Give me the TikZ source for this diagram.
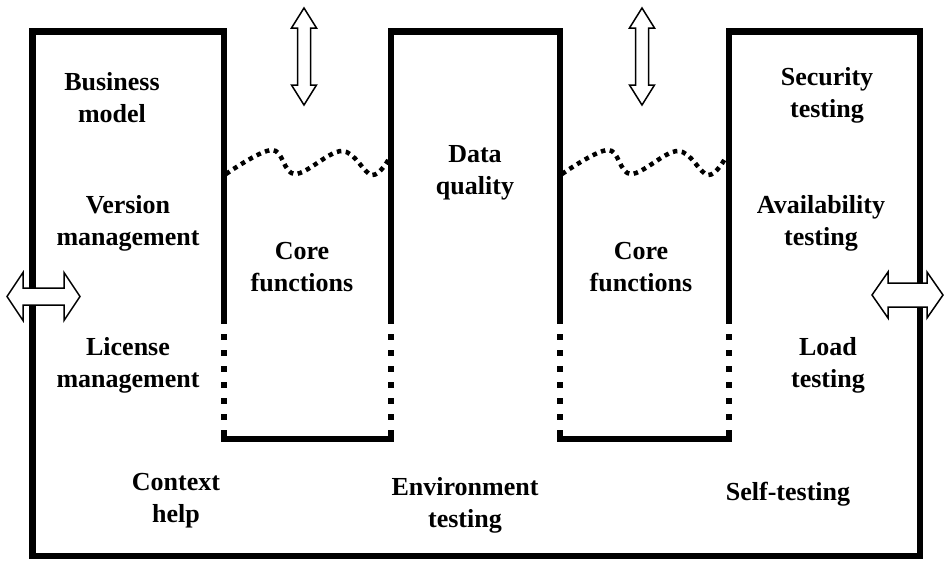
\documentclass[tikz,border=0pt]{standalone}
\usepackage{fontspec}
\setmainfont{Liberation Serif}
\begin{document}
\begin{tikzpicture}[x=1pt,y=-1pt]
\tikzset{
  wall/.style={line width=6.5pt, line join=miter},
  gap/.style={line width=6.5pt, dash pattern=on 6pt off 10pt},
  seam/.style={line width=4.5pt, dash pattern=on 4.5pt off 4.5pt},
  flow/.style={draw=black, fill=white, line width=1.5pt, line join=miter},
  label/.style={font=\bfseries\fontsize{26}{32}\selectfont, align=center,
                anchor=north, inner sep=0pt},
}
\useasboundingbox (0,0) rectangle (945,560);

% outer outline with the three raised blocks
\draw[wall] (729,318) -- (729,31.5) -- (920,31.5) -- (920,556) -- (32.5,556)
  -- (32.5,31.5) -- (224,31.5) -- (224,318);
\draw[wall] (391,318) -- (391,31.5) -- (560,31.5) -- (560,318);

% dotted lower walls of the two core wells
\foreach \x in {224,391,560,729}
  \draw[gap] (\x,318) -- (\x,436);

% bottoms of the two core wells
\draw[wall] (224,436) -- (224,439) -- (391,439) -- (391,436);
\draw[wall] (560,436) -- (560,439) -- (729,439) -- (729,436);

% wavy dotted surfaces of the core wells
\draw[seam] plot[smooth, tension=0.6] coordinates
  {(226,174) (272,150) (295,174) (342,151) (372,175) (390,157)};
\draw[seam] plot[smooth, tension=0.6] coordinates
  {(562,174) (608,150) (631,174) (678,151) (708,175) (726,157)};

% vertical double arrows above the wells
\foreach \c in {304,642}
  \draw[flow] (\c,8) -- (\c+12.5,28) -- (\c+6.5,28) -- (\c+6.5,85)
    -- (\c+12.5,85) -- (\c,105) -- (\c-12.5,85) -- (\c-6.5,85)
    -- (\c-6.5,28) -- (\c-12.5,28) -- cycle;

% horizontal double arrows on the side walls
\draw[flow] (7,296.5) -- (23,272.5) -- (23,288) -- (64,288) -- (64,272.5)
  -- (80,296.5) -- (64,320.5) -- (64,305) -- (23,305) -- (23,320.5) -- cycle;
\draw[flow] (872,295) -- (888,272) -- (888,283) -- (927,283) -- (927,272)
  -- (943,295) -- (927,318) -- (927,307) -- (888,307) -- (888,318) -- cycle;

% labels
\node[label] (bm)  at (112,72)  {Business\\model};
\node[label] (vm)  at (128,195) {Version\\management};
\node[label] (lm)  at (128,337) {License\\management};
\node[label] (ch)  at (176,473) {Context\\help};
\node[label] (cf1) at (302,242) {Core\\functions};
\node[label] (dq)  at (475,145) {Data\\quality};
\node[label] (et)  at (465,477) {Environment\\testing};
\node[label] (cf2) at (641,242) {Core\\functions};
\node[label] (st)  at (827,67)  {Security\\testing};
\node[label] (at)  at (821,195) {Availability\\testing};
\node[label] (lt)  at (828,337) {Load\\testing};
\node[label] (sf)  at (788,482) {Self-testing};
\end{tikzpicture}
\end{document}
